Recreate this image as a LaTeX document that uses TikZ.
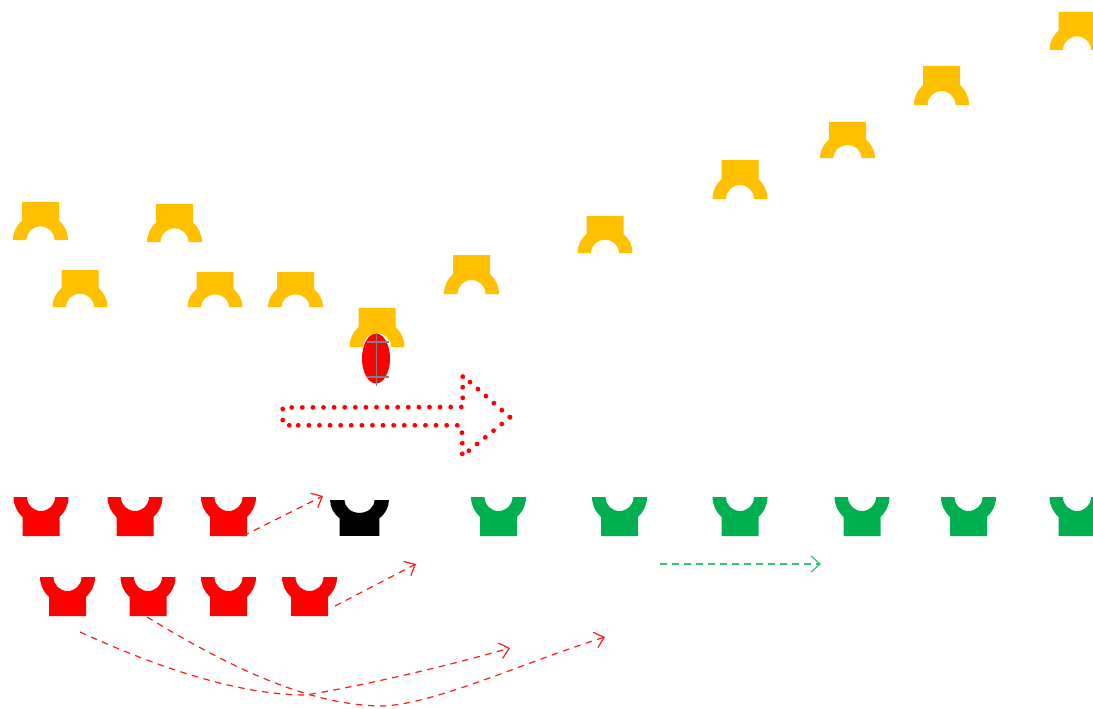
\documentclass[tikz,border=0pt]{standalone}
\usetikzlibrary{arrows.meta}
\definecolor{amber}{HTML}{FFC000}
\definecolor{leaf}{HTML}{00B050}
\tikzset{
  x=1pt,y=-1pt,
  pics/cup/.style={code={
    \fill[#1] (-27.5,0) .. controls (-27.5,8) and (-24,15) .. (-18.5,20) -- (-18.5,39) -- (18.5,39) -- (18.5,20)
      .. controls (24,15) and (27.5,8) .. (27.5,0) -- (14,0)
      .. controls (14,8) and (7.7,14) .. (0,14) .. controls (-7.7,14) and (-14,8) .. (-14,0) -- cycle;
  }},
  flow/.style={dash pattern=on 6.5pt off 5.5pt,line width=1.2pt,
    -{Straight Barb[length=9pt,width=16pt,line width=1.2pt]}},
  redflow/.style={flow,draw=red!90!white},
  greenflow/.style={flow,draw=leaf!80!white},
  mark line/.style={draw=gray,line width=1.3pt},
  dots line/.style={red,line width=4.8pt,line cap=round,dash pattern=on 0pt off 10.6pt},
}
\begin{document}
\begin{tikzpicture}
\useasboundingbox (0,0) rectangle (1093,709);
% amber pieces (apex up): centre / base / height
\foreach \px/\py/\ph in {40.5/240/38,174.5/242/38,80/307/37,215/307/35,295.5/307/35,377/347/39,471.5/294/39,605/253/37,740/199/39,847.5/158/36,941.5/105/39,1077/50/38}
  \pic[yscale=-\ph/39] at (\px,\py) {cup=amber};
% red pieces
\foreach \px/\py in {41/497,135/497,228.5/497,67.5/577,148/577,228.5/577,309.5/577}
  \pic at (\px,\py) {cup=red};
% black piece
\pic[xscale=1.07,yscale=0.92] at (359.5,500) {cup=black};
% green pieces
\foreach \px in {498.5,619.5,740,862,968.5,1077}
  \pic at (\px,497) {cup=leaf};
% ball
\fill[red] (376,358.5) ellipse [x radius=14,y radius=25];
\draw[mark line] (376.7,333) -- (376.7,386);
\draw[mark line] (366.7,342) -- (389,342);
\draw[mark line] (366.7,377) -- (389,377);
% dotted block arrow
\draw[dots line] (291.7,407.5) -- (462.7,407) -- (462.7,375.7) -- (510,417.3);
\draw[dots line] (510,417.3) -- (462.3,456) -- (462.3,434.3) -- (460.3,425.3) -- (289.3,425.3);
\fill[red] (282.7,409) circle (2.4) (282.7,420) circle (2.4) (289.3,425.3) circle (2.4);
% flows
\coordinate (a1) at (243,536); \coordinate (a2) at (323,496);
\coordinate (b1) at (335,606); \coordinate (b2) at (416,564);
\coordinate (c1) at (80,632);  \coordinate (c2) at (510,648);
\coordinate (d1) at (147,617); \coordinate (d2) at (605,637);
\coordinate (e1) at (660,564); \coordinate (e2) at (821,564);
\draw[redflow] (a1) -- (a2);
\draw[redflow] (b1) -- (b2);
\draw[redflow] (c1) .. controls (150,664) and (235,695) .. (306,695) .. controls (360,686) and (440,668) .. (c2);
\draw[redflow] (d1) .. controls (210,655) and (300,706) .. (383,706) .. controls (435,704) and (525,662) .. (d2);
\draw[greenflow] (e1) -- (e2);
\end{tikzpicture}
\end{document}
